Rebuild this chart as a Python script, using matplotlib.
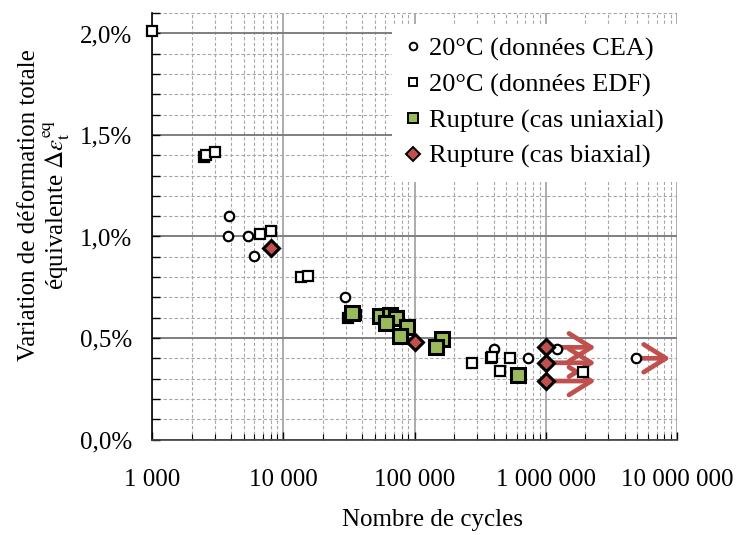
import matplotlib
matplotlib.use("Agg")
import matplotlib.pyplot as plt
from matplotlib.lines import Line2D
from matplotlib.ticker import LogLocator, MultipleLocator, NullFormatter

plt.rcParams['font.family'] = ['Liberation Serif', 'DejaVu Serif']
plt.rcParams['mathtext.fontset'] = 'stix'

# ---- data (N cycles, strain range in %) ----
cea_n = [3860, 3810, 5360, 6010, 29500, 405000, 734000, 1210000, 4900000]
cea_e = [1.10, 1.00, 1.00, 0.905, 0.70, 0.444, 0.403, 0.444, 0.40]

edf_n = [1000, 2500, 2560, 3020, 6640, 8060, 13550, 15350, 31300, 36000,
         272000, 380000, 391000, 533000, 447000, 1930000]
edf_e = [2.01, 1.39, 1.40, 1.418, 1.011, 1.027, 0.802, 0.807, 0.597, 0.613,
         0.375, 0.40, 0.408, 0.403, 0.339, 0.334]

uni_n = [33200, 54400, 65000, 72100, 60500, 88100, 77500, 160600, 147000, 617000]
uni_e = [0.625, 0.608, 0.613, 0.597, 0.572, 0.553, 0.51, 0.494, 0.457, 0.318]

bi_n = [8060, 100700, 1000000, 1000000, 1000000]
bi_e = [0.942, 0.482, 0.454, 0.378, 0.288]

# run-outs (arrows)
arrow_start_n = [1000000, 1000000, 1000000, 5300000]
arrow_end_n = [2400000, 2400000, 2400000, 8900000]
arrow_e = [0.454, 0.378, 0.288, 0.40]

xtick_vals = [1e3, 1e4, 1e5, 1e6, 1e7]
xtick_labels = ["1 000", "10 000", "100 000", "1 000 000", "10 000 000"]
ytick_vals = [0.0, 0.5, 1.0, 1.5, 2.0]
ytick_labels = ["0,0%", "0,5%", "1,0%", "1,5%", "2,0%"]

labels = ["20°C (données CEA)", "20°C (données EDF)",
          "Rupture (cas uniaxial)", "Rupture (cas biaxial)"]

GREEN = "#9BBB59"
RED = "#C0504D"

fig = plt.figure(figsize=(7.36, 5.35), dpi=100)
W, H = 736, 535
x0, x1 = 152, 677
yb, yt = 439.5, 13.2
ax = fig.add_axes([x0 / W, 1 - yb / H, (x1 - x0) / W, (yb - yt) / H])

ax.set_xscale('log')
ax.set_xlim(1e3, 1e7)
ax.set_ylim(0, 2.1)

# grid
ax.xaxis.set_major_locator(LogLocator(base=10, numticks=10))
ax.xaxis.set_minor_locator(LogLocator(base=10, subs=range(2, 10), numticks=100))
ax.xaxis.set_minor_formatter(NullFormatter())
ax.yaxis.set_minor_locator(MultipleLocator(0.1))
ax.set_xticks(xtick_vals)
ax.set_xticklabels(xtick_labels)
ax.set_yticks(ytick_vals)
ax.set_yticklabels(ytick_labels)

ax.grid(True, which='major', axis='y', color='#7f7f7f', lw=1.4, ls='-', zorder=0)
ax.grid(True, which='major', axis='x', color='#a6a6a6', lw=1.3, ls='-', zorder=0)
ax.grid(True, which='minor', axis='both', color='#a6a6a6', lw=0.8, ls=(0, (3, 2)), zorder=0)
ax.set_axisbelow(True)

for s in ['top', 'right']:
    ax.spines[s].set_visible(False)
ax.spines['left'].set_color('black')
ax.spines['bottom'].set_color('#404040')
ax.spines['left'].set_linewidth(1.2)
ax.spines['bottom'].set_linewidth(1.2)

ax.tick_params(axis='y', which='both', direction='in', length=6, width=1, labelsize=18, pad=14)
ax.tick_params(axis='x', which='major', direction='in', length=6, width=1, labelsize=18, pad=21)
ax.tick_params(axis='x', which='minor', direction='in', length=4, width=0.8)

# arrows
for xs, xe, y in zip(arrow_start_n, arrow_end_n, arrow_e):
    ax.annotate("", xy=(xe, y), xytext=(xs, y),
                arrowprops=dict(arrowstyle="->,head_length=0.8,head_width=0.5",
                                color=RED, lw=3.4, shrinkA=0, shrinkB=0,
                                mutation_scale=20), zorder=2)

ax.plot(cea_n, cea_e, ls='none', marker='o', ms=6.8, mfc='white', mec='black', mew=1.6, zorder=3)
ax.plot(edf_n, edf_e, ls='none', marker='s', ms=6.8, mfc='white', mec='black', mew=1.6,
        zorder=3, clip_on=False)
ax.plot(uni_n, uni_e, ls='none', marker='s', ms=9.5, mfc=GREEN, mec='black', mew=2.2, zorder=4)
ax.plot(bi_n, bi_e, ls='none', marker='D', ms=8, mfc=RED, mec='black', mew=2.2, zorder=5)

handles = [
    Line2D([], [], ls='none', marker='o', ms=5.5, mfc='white', mec='black', mew=1.4),
    Line2D([], [], ls='none', marker='s', ms=6, mfc='white', mec='black', mew=1.4),
    Line2D([], [], ls='none', marker='s', ms=6.5, mfc=GREEN, mec='black', mew=1.4),
    Line2D([], [], ls='none', marker='D', ms=7.5, mfc=RED, mec='black', mew=1.4),
]
leg = ax.legend(handles, labels, loc='upper right',
                bbox_to_anchor=(677 / W, 1 - 24 / H), bbox_transform=fig.transFigure,
                frameon=True, fancybox=False, framealpha=1, edgecolor='none',
                fontsize=19, handlelength=0.6, handletextpad=0.3,
                labelspacing=0.45, borderpad=0.5, borderaxespad=0)
leg.get_frame().set_facecolor('white')
leg.set_zorder(10)

fig.text(432 / W, 1 - 520 / H, "Nombre de cycles", ha='center', va='center', fontsize=18)
fig.text(45 / W, 1 - 205 / H,
         "Variation de déformation totale\néquivalente $\\Delta\\varepsilon_{\\mathrm{t}}^{\\mathrm{eq}}$",
         rotation=90, ha='center', va='center', fontsize=18, multialignment='center',
         linespacing=1.05)

fig.savefig("out.png", dpi=100)
